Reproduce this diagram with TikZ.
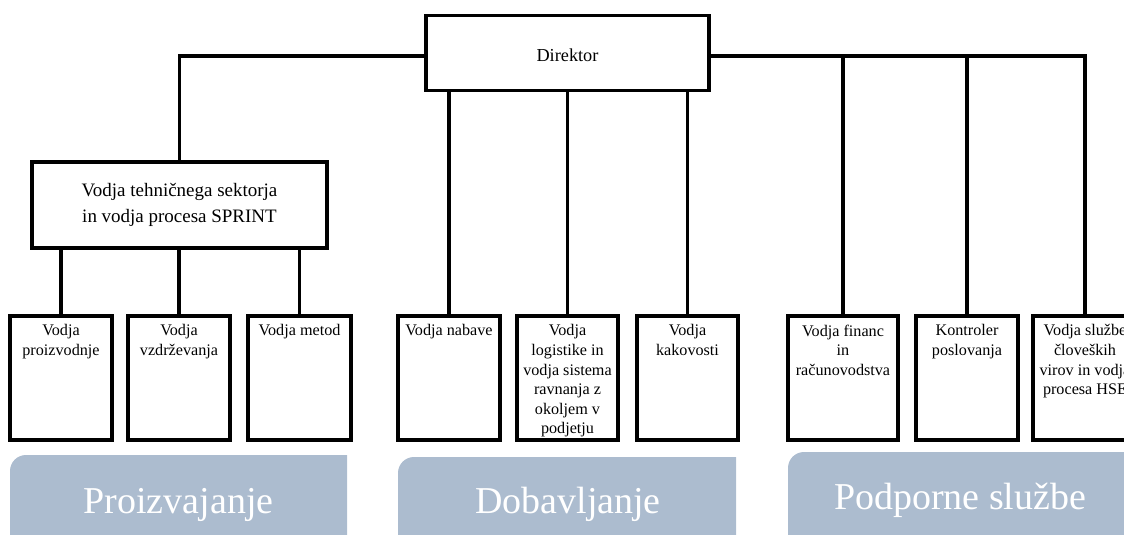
\documentclass[tikz,border=0pt]{standalone}
\usepackage{fontspec}
\setmainfont{Liberation Serif}
\usepackage{xcolor}
\definecolor{BandBlue}{RGB}{172,188,207}
\usetikzlibrary{positioning, calc}
\newdimen\pxu \pxu=0.025cm
\tikzset{
  % boxes of the chart
  obox/.style={
    rectangle, draw=black, line width=2.2pt,
    fill=white, align=center, inner sep=2pt
  },
  head/.style={obox, font=\fontsize{13.5}{18.5}\selectfont},
  leaf/.style={obox, minimum height=124\pxu, inner sep=0pt},
  leaftxt/.style={
    anchor=north, align=center, inner sep=0pt, yshift=-10\pxu,
    font=\fontsize{11.5}{13.9}\selectfont
  },
  % connectors
  link/.style={line width=2.2pt, black},
  % bottom bands
  band/.style={fill=BandBlue},
  bandtxt/.style={anchor=base, text=white, font=\fontsize{27}{32}\selectfont},
}

\begin{document}
\begin{tikzpicture}[x=0.025cm, y=-0.025cm]
  \useasboundingbox (0,0) rectangle (1124,534);
  \clip (0,0) rectangle (1124,534);

  % Top
  \node[head, font=\fontsize{13}{16}\selectfont, minimum width=283\pxu, minimum height=75\pxu] (dir) at (567.5,53) {};
  \node[anchor=base, font=\fontsize{13}{16}\selectfont, inner sep=0pt] (dirtxt) at (567.5,61) {Direktor};
  \node[head, minimum width=295\pxu, minimum height=86\pxu] (tech) at (179.5,205)
    {Vodja tehničnega sektorja\\in vodja procesa SPRINT};
  \coordinate (dirl) at ($(dir.west)+(0,3)$);
  \coordinate (dirr) at ($(dir.east)+(0,3)$);

  % Leaders
  \foreach \n/\x/\w/\txt in {
    1/61/102/{Vodja\\proizvodnje},
    2/179/102/{Vodja\\vzdrževanja},
    3/299.5/103/{Vodja metod},
    4/449/102/{Vodja nabave},
    5/567.5/101/{Vodja\\logistike in\\vodja sistema\\ravnanja z\\okoljem v\\podjetju},
    6/687.5/101/{Vodja\\kakovosti},
    7/843/110/{Vodja financ\\in\\računovodstva},
    8/967/102/{Kontroler\\poslovanja},
    9/1085/104/{Vodja službe\\človeških\\virov in vodja\\procesa HSE}}{
    \node[leaf, minimum width=\w\pxu, label={[leaftxt]north:\txt}] (b\n) at (\x,378) {};
  }

  % Connectors
  \draw[link] (dirl) -| (tech.north);
  \draw[link] (dirr) -| (b9.north);
  \foreach \n in {1,2,3}
    \draw[link] (tech.south -| b\n.north) -- (b\n.north);
  \foreach \n in {4,5,6}
    \draw[link] (dir.south -| b\n.north) -- (b\n.north);
  \foreach \n in {7,8}
    \draw[link] (b\n.north |- dirr) -- (b\n.north);

  % Bands
  \fill[band] (10,545) -- (10,471) arc[start angle=180, end angle=90, radius=16\pxu] -- (347,455) -- (347,545) -- cycle;
  \fill[band] (398,545) -- (398,473) arc[start angle=180, end angle=90, radius=16\pxu] -- (736,457) -- (736,545) -- cycle;
  \fill[band] (788,545) -- (788,468) arc[start angle=180, end angle=90, radius=16\pxu] -- (1130,452) -- (1130,545) -- cycle;
  \node[bandtxt] (proiz) at (178.5,513) {Proizvajanje};
  \node[bandtxt] (dobav) at (568,513) {Dobavljanje};
  \node[bandtxt] (podpo) at (960,509) {Podporne službe};
\end{tikzpicture}
\end{document}
